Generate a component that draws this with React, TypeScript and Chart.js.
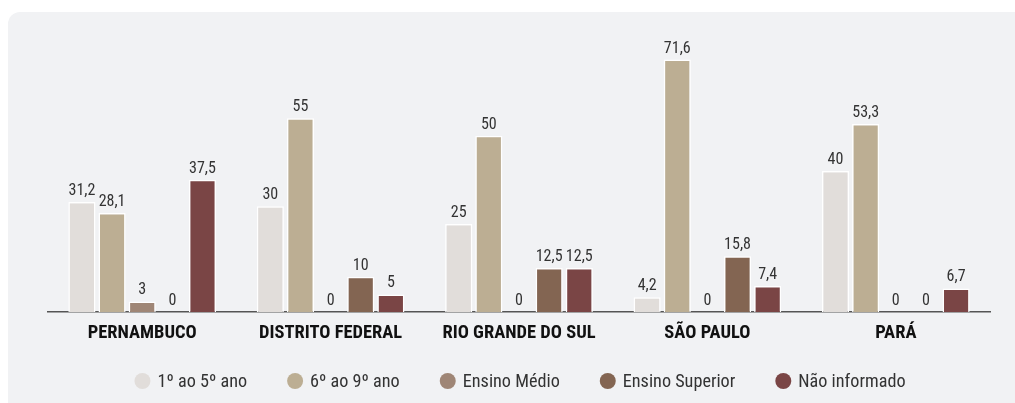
import React, { useEffect, useRef } from "react";
import { Chart, registerables } from "chart.js";

Chart.register(...registerables);

const categories = ["PERNAMBUCO", "DISTRITO FEDERAL", "RIO GRANDE DO SUL", "SÃO PAULO", "PARÁ"];
const seriesNames = ["1º ao 5º ano", "6º ao 9º ano", "Ensino Médio", "Ensino Superior", "Não informado"];
const s1 = [31.2, 30, 25, 4.2, 40];
const s2 = [28.1, 55, 50, 71.6, 53.3];
const s3 = [3, 0, 0, 0, 0];
const s4 = [0, 10, 12.5, 15.8, 0];
const s5 = [37.5, 5, 12.5, 7.4, 6.7];
const colors = ["#e1ddda", "#bcae93", "#9f8676", "#836552", "#7a4545"];

const FONT = "'Liberation Sans Narrow', 'Roboto Condensed', Roboto, sans-serif";

const labelPlugin = {
  id: "valueLabels",
  afterDatasetsDraw(chart: any) {
    const ctx = chart.ctx;
    ctx.save();
    ctx.font = `16px ${FONT}`;
    ctx.fillStyle = "#333333";
    ctx.textAlign = "center";
    ctx.textBaseline = "alphabetic";
    chart.data.datasets.forEach((ds: any, i: number) => {
      const meta = chart.getDatasetMeta(i);
      meta.data.forEach((bar: any, j: number) => {
        const v = ds.data[j];
        const txt = String(v).replace(".", ",");
        ctx.fillText(txt, bar.x, bar.y - 7);
      });
    });
    ctx.restore();
  },
};

const legendPlugin = {
  id: "customLegend",
  afterDraw(chart: any) {
    const ctx = chart.ctx;
    const area = chart.chartArea;
    const r = 8;
    const textGap = 15;
    const itemGap = 40;
    ctx.save();
    ctx.font = `18.2px ${FONT}`;
    ctx.textBaseline = "middle";
    ctx.textAlign = "left";
    const items = chart.data.datasets.map((ds: any) => ({
      label: ds.label,
      color: ds.backgroundColor,
      w: ctx.measureText(ds.label).width,
    }));
    let total = 0;
    items.forEach((it: any, i: number) => {
      total += r + textGap + it.w + (i < items.length - 1 ? itemGap + r : 0);
    });
    total += r;
    let x = (area.left + area.right) / 2 - total / 2 + 21;
    const y = 369;
    items.forEach((it: any) => {
      const cx = x + r;
      ctx.beginPath();
      ctx.arc(cx, y, r, 0, Math.PI * 2);
      ctx.fillStyle = it.color;
      ctx.fill();
      ctx.fillStyle = "#333333";
      ctx.fillText(it.label, cx + textGap, y + 1);
      x = cx + textGap + it.w + itemGap;
    });
    ctx.restore();
  },
};

export default function App() {
  const ref = useRef<HTMLCanvasElement>(null);
  useEffect(() => {
    const data = [s1, s2, s3, s4, s5];
    const chart = new Chart(ref.current!, {
      type: "bar",
      data: {
        labels: categories,
        datasets: seriesNames.map((n, i) => ({
          label: n,
          data: data[i],
          backgroundColor: colors[i],
          borderColor: "#ffffff",
          borderWidth: (c: any) => (c.raw === 0 ? 0 : 1.5),
        })),
      },
      options: {
        animation: false,
        responsive: false,
        layout: { padding: { left: 40, right: 25, top: 18, bottom: 51 } },
        scales: {
          x: {
            grid: { display: false, drawTicks: false },
            border: { display: true, color: "#555555", width: 1.5 },
            ticks: { color: "#111111", font: { family: FONT, size: 18.5, weight: "bold" }, padding: 10 },
            afterFit: (scale: any) => {
              scale.height = 40;
            },
          },
          y: { display: false, min: 0, max: 80 },
        },
        plugins: {
          legend: { display: false },
          tooltip: { enabled: false },
        },
      },
      plugins: [labelPlugin, legendPlugin],
    });
    return () => chart.destroy();
  }, []);
  return (
    <div
      style={{
        position: "absolute",
        left: 8,
        top: 12,
        width: 1007,
        height: 391,
        background: "#f1f2f4",
        borderTopLeftRadius: 12,
      }}
    >
      <canvas ref={ref} width={1007} height={391} style={{ display: "block" }} />
    </div>
  );
}
